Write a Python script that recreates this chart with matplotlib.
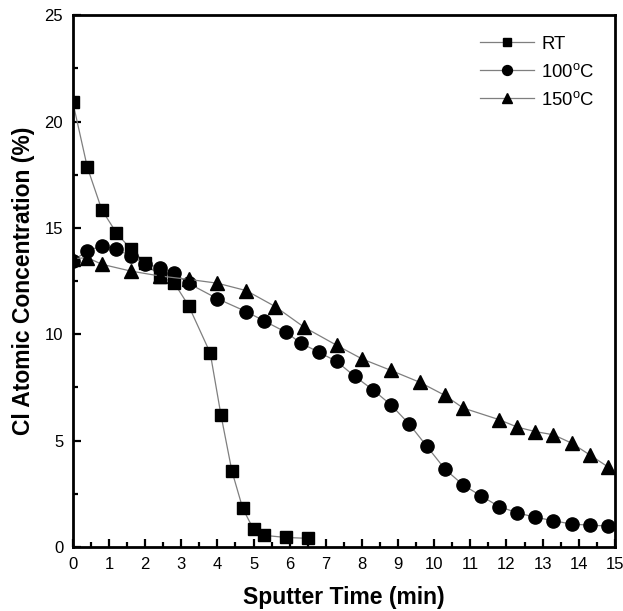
"""Cl depth profile: atomic concentration vs sputter time for three temperatures."""

import matplotlib

matplotlib.use("Agg")
import matplotlib.pyplot as plt
from matplotlib.ticker import MultipleLocator

plt.rcParams["font.family"] = ["Liberation Sans", "DejaVu Sans"]
plt.rcParams["mathtext.fontset"] = "custom"
plt.rcParams["mathtext.rm"] = "Liberation Sans"

# RT (squares)
rt_time = [0.0, 0.4, 0.8, 1.2, 1.6, 2.0, 2.4, 2.8, 3.2, 3.8, 4.1, 4.4, 4.7, 5.0, 5.3, 5.9, 6.5]
rt_conc = [20.9, 17.85, 15.85, 14.78, 14.0, 13.37, 12.71, 12.42, 11.35, 9.12, 6.18, 3.57, 1.81,
           0.82, 0.54, 0.44, 0.40]

# 100 C (circles)
c100_time = [0.0, 0.4, 0.8, 1.2, 1.6, 2.0, 2.4, 2.8, 3.2, 4.0, 4.8, 5.3, 5.9, 6.3, 6.8, 7.3,
             7.8, 8.3, 8.8, 9.3, 9.8, 10.3, 10.8, 11.3, 11.8, 12.3, 12.8, 13.3, 13.8, 14.3, 14.8]
c100_conc = [13.45, 13.92, 14.15, 14.0, 13.68, 13.32, 13.13, 12.86, 12.39, 11.67, 11.06, 10.62,
             10.09, 9.59, 9.16, 8.72, 8.02, 7.39, 6.68, 5.79, 4.72, 3.65, 2.91, 2.39, 1.89,
             1.60, 1.39, 1.23, 1.07, 1.02, 0.98]

# 150 C (triangles)
c150_time = [0.0, 0.4, 0.8, 1.6, 2.4, 3.2, 4.0, 4.8, 5.6, 6.4, 7.3, 8.0, 8.8, 9.6, 10.3, 10.8,
             11.8, 12.3, 12.8, 13.3, 13.8, 14.3, 14.8]
c150_conc = [13.55, 13.6, 13.29, 12.97, 12.74, 12.58, 12.4, 12.05, 11.3, 10.33, 9.48, 8.84,
             8.30, 7.74, 7.12, 6.53, 5.98, 5.63, 5.42, 5.27, 4.88, 4.33, 3.77]

series = [
    (rt_time, rt_conc, "s", 8.5, "RT"),
    (c100_time, c100_conc, "o", 9.5, r"100$^{\mathrm{o}}$C"),
    (c150_time, c150_conc, "^", 10, r"150$^{\mathrm{o}}$C"),
]

fig = plt.figure(figsize=(6.23, 6.11), dpi=100)
ax = fig.add_axes([0.117, 0.105, 0.870, 0.870])

for xs, ys, marker, ms, label in series:
    ax.plot(xs, ys, color="#7f7f7f", lw=0.9, marker=marker, ms=ms,
            mfc="black", mec="black", label=label)

ax.set_xlim(0, 15)
ax.set_ylim(0, 25)
ax.xaxis.set_major_locator(MultipleLocator(1))
ax.xaxis.set_minor_locator(MultipleLocator(0.5))
ax.yaxis.set_major_locator(MultipleLocator(5))
ax.yaxis.set_minor_locator(MultipleLocator(2.5))
ax.tick_params(which="major", direction="in", length=6, width=1.6, labelsize=12)
ax.tick_params(axis="x", which="major", pad=7.5)
ax.tick_params(axis="y", which="major", pad=7)
ax.tick_params(which="minor", direction="in", length=3.5, width=1.6)
for spine in ax.spines.values():
    spine.set_linewidth(2)

ax.set_xlabel("Sputter Time (min)", fontsize=16.5, fontweight="bold", labelpad=10)
ax.set_ylabel("Cl Atomic Concentration (%)", fontsize=16.5, fontweight="bold", labelpad=7)

leg = ax.legend(loc="upper right", frameon=False, fontsize=13.3, handlelength=2.9,
                markerscale=0.75, borderaxespad=0.5, borderpad=0.6,
                labelspacing=0.54, handletextpad=0.4)

fig.savefig("out.png", dpi=100)
